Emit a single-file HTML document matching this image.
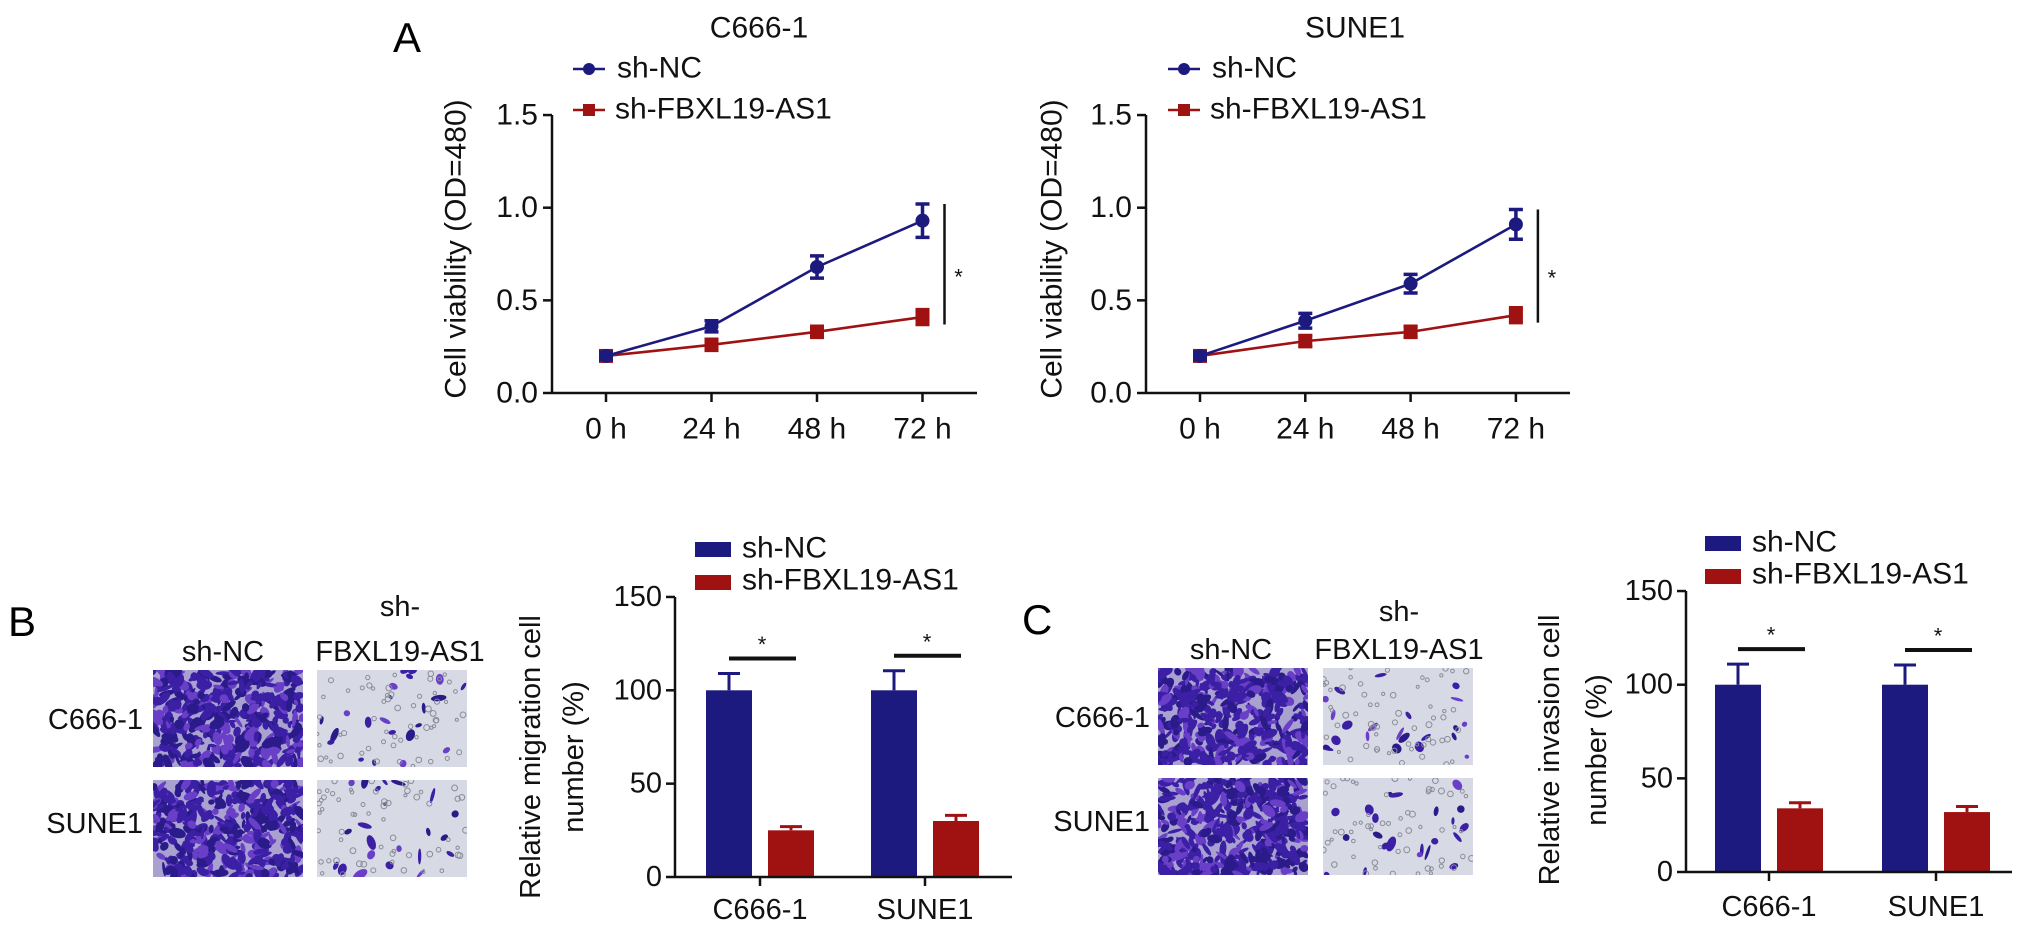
<!DOCTYPE html>
<html><head><meta charset="utf-8"><style>
html,body{margin:0;padding:0;background:#fff;}
svg{display:block;font-family:"Liberation Sans",Arial,sans-serif;}
</style></head><body>
<svg id="fig" width="2032" height="934" viewBox="0 0 2032 934" xmlns="http://www.w3.org/2000/svg">
<defs>
<clipPath id="ci1"><rect x="153" y="670" width="150" height="97"/></clipPath>
<clipPath id="ci2"><rect x="317" y="670" width="150" height="97"/></clipPath>
<clipPath id="ci3"><rect x="153" y="780" width="150" height="97"/></clipPath>
<clipPath id="ci4"><rect x="317" y="780" width="150" height="97"/></clipPath>
<clipPath id="ci5"><rect x="1158" y="668" width="150" height="97"/></clipPath>
<clipPath id="ci6"><rect x="1323" y="668" width="150" height="97"/></clipPath>
<clipPath id="ci7"><rect x="1158" y="778" width="150" height="97"/></clipPath>
<clipPath id="ci8"><rect x="1323" y="778" width="150" height="97"/></clipPath>
</defs>
<text x="393" y="52" font-size="42">A</text>
<text x="8" y="636" font-size="42">B</text>
<text x="1022" y="634" font-size="42">C</text>
</svg>
<script>
// ---- Panel A data ----
const timeLabels = ['0 h','24 h','48 h','72 h'];
const yTickValsA = [0, 0.5, 1.0, 1.5];
const yTickLabelsA = ['0.0','0.5','1.0','1.5'];
const c666NC = [0.20, 0.36, 0.68, 0.93];
const c666NCErr = [0.02, 0.03, 0.06, 0.09];
const c666KD = [0.20, 0.26, 0.33, 0.41];
const c666KDErr = [0.02, 0.03, 0.03, 0.04];
const sune1NC = [0.20, 0.39, 0.59, 0.91];
const sune1NCErr = [0.02, 0.04, 0.05, 0.08];
const sune1KD = [0.20, 0.28, 0.33, 0.42];
const sune1KDErr = [0.02, 0.03, 0.03, 0.04];
// ---- Panel B/C data ----
const barCats = ['C666-1','SUNE1'];
const yTickValsB = [0, 50, 100, 150];
const migNC = [100, 100];
const migNCErr = [9, 10.5];
const migKD = [25, 30];
const migKDErr = [2, 3];
const invNC = [100, 100];
const invNCErr = [11, 10.5];
const invKD = [34, 32];
const invKDErr = [3, 3];

const NS = 'http://www.w3.org/2000/svg';
const svg = document.getElementById('fig');
const BLUE = '#1c1a7e', RED = '#a01212';
function mk(tag, attrs, parent) {
  const e = document.createElementNS(NS, tag);
  for (const k in attrs) e.setAttribute(k, attrs[k]);
  (parent || svg).appendChild(e);
  return e;
}
function txt(x, y, s, size, anchor, parent) {
  const t = mk('text', {x: x, y: y, 'font-size': size, 'text-anchor': anchor || 'start', 'dominant-baseline': 'central', fill: '#111'}, parent);
  t.textContent = s;
  return t;
}

// ---------- Line charts ----------
function lineChart(cfg) {
  const g = mk('g', {});
  
  
  const yS = v => cfg.y0 - v * cfg.ppu;
  const xS = i => cfg.xFirst + i * cfg.xStep;
  const ya = mk('line', {x1: cfg.ax, y1: yS(1.5), x2: cfg.ax, y2: yS(0), stroke: '#111', 'stroke-width': 2.5}, g);
  
  
  const xa = mk('line', {x1: cfg.ax, y1: yS(0), x2: cfg.axEnd, y2: yS(0), stroke: '#111', 'stroke-width': 2.5}, g);
  
  
  yTickValsA.forEach((v, i) => {
    mk('line', {x1: cfg.ax - 9, y1: yS(v), x2: cfg.ax, y2: yS(v), stroke: '#111', 'stroke-width': 2.5}, g);
    const t = txt(cfg.ax - 14, yS(v), yTickLabelsA[i], 30, 'end', g);
    
    
  });
  timeLabels.forEach((s, i) => {
    mk('line', {x1: xS(i), y1: yS(0), x2: xS(i), y2: yS(0) + 9, stroke: '#111', 'stroke-width': 2.5}, g);
    const t = txt(xS(i), 429, s, 30, 'middle', g);
    
    
  });
  const yt = txt(0, 0, 'Cell viability (OD=480)', 30, 'middle', g);
  yt.setAttribute('transform', 'translate(' + cfg.titleX + ',249) rotate(-90)');
  
  
  const tt = txt(cfg.titleCX, 28, cfg.title, 30, 'middle', g);
  
  
  const series = [[cfg.kd, cfg.kdErr, RED, 'sq', 'series-sh-fbxl19-as1'], [cfg.nc, cfg.ncErr, BLUE, 'ci', 'series-sh-nc']];
  series.forEach(([vals, errs, col, shape, nm]) => {
    const sg = mk('g', {}, g);
    
    
    const pts = vals.map((v, i) => xS(i) + ',' + yS(v)).join(' ');
    mk('polyline', {points: pts, fill: 'none', stroke: col, 'stroke-width': 2.6}, sg);
    vals.forEach((v, i) => {
      const x = xS(i), e = errs[i];
      const eb = mk('path', {d: 'M' + x + ' ' + yS(v + e) + 'V' + yS(v - e) + 'M' + (x - 7) + ' ' + yS(v + e) + 'H' + (x + 7) + 'M' + (x - 7) + ' ' + yS(v - e) + 'H' + (x + 7), stroke: col, 'stroke-width': 3.5, fill: 'none'}, sg);
      
      
      let m;
      if (shape === 'sq') m = mk('rect', {x: x - 7, y: yS(v) - 7, width: 14, height: 14, fill: col}, sg);
      else m = mk('circle', {cx: x, cy: yS(v), r: 7, fill: col}, sg);
      
      
    });
  });
  const sx = xS(3) + 22;
  const sb = mk('line', {x1: sx, y1: yS(cfg.nc[3] + cfg.ncErr[3]), x2: sx, y2: yS(cfg.kd[3] - cfg.kdErr[3]), stroke: '#111', 'stroke-width': 2.5}, g);
  
  
  const st = txt(sx + 14, (yS(cfg.nc[3]) + yS(cfg.kd[3])) / 2 + 8, '*', 22, 'middle', g);
  
  
  const lg = mk('g', {}, g);
  
  
  const l1 = cfg.legX;
  mk('line', {x1: l1, y1: 69, x2: l1 + 32, y2: 69, stroke: BLUE, 'stroke-width': 2.6}, lg);
  mk('circle', {cx: l1 + 16, cy: 69, r: 6, fill: BLUE}, lg);
  const t1 = txt(l1 + 44, 68, 'sh-NC', 30, 'start', lg);
  
  
  mk('line', {x1: l1, y1: 110, x2: l1 + 32, y2: 110, stroke: RED, 'stroke-width': 2.6}, lg);
  mk('rect', {x: l1 + 10, y: 104, width: 12, height: 12, fill: RED}, lg);
  const t2 = txt(l1 + 42, 109, 'sh-FBXL19-AS1', 30, 'start', lg);
  
  
}
lineChart({name: 'chart-a-c666-1', ax: 552, axEnd: 977, xFirst: 606, xStep: 105.5, y0: 393, ppu: 185.3, titleX: 456, titleCX: 759, title: 'C666-1', legX: 573, nc: c666NC, ncErr: c666NCErr, kd: c666KD, kdErr: c666KDErr});
lineChart({name: 'chart-a-sune1', ax: 1146, axEnd: 1570, xFirst: 1200, xStep: 105.3, y0: 393, ppu: 185.3, titleX: 1052, titleCX: 1355, title: 'SUNE1', legX: 1168, nc: sune1NC, ncErr: sune1NCErr, kd: sune1KD, kdErr: sune1KDErr});

// ---------- Bar charts ----------
function barChart(cfg) {
  const g = mk('g', {});
  
  
  const yS = v => cfg.y0 - v * cfg.ppu;
  const xS = i => cfg.tFirst + i * cfg.tStep;
  const ya = mk('line', {x1: cfg.ax, y1: yS(150), x2: cfg.ax, y2: yS(0), stroke: '#111', 'stroke-width': 2.5}, g);
  
  
  yTickValsB.forEach(v => {
    mk('line', {x1: cfg.ax - 9, y1: yS(v), x2: cfg.ax, y2: yS(v), stroke: '#111', 'stroke-width': 2.5}, g);
    const t = txt(cfg.ax - 13, yS(v), String(v), 29, 'end', g);
    
    
  });
  const bw = 46;
  barCats.forEach((c, i) => {
    const cx = xS(i);
    [[cfg.nc, cfg.ncErr, BLUE, -31, 'bar-sh-nc'], [cfg.kd, cfg.kdErr, RED, 31, 'bar-sh-fbxl19-as1']].forEach(([vals, errs, col, off, nm]) => {
      const bx = cx + off;
      mk('line', {x1: bx, y1: yS(vals[i]), x2: bx, y2: yS(vals[i] + errs[i]), stroke: col, 'stroke-width': 3}, g);
      mk('line', {x1: bx - 11, y1: yS(vals[i] + errs[i]), x2: bx + 11, y2: yS(vals[i] + errs[i]), stroke: col, 'stroke-width': 3}, g);
      const b = mk('rect', {x: bx - bw / 2, y: yS(vals[i]), width: bw, height: yS(0) - yS(vals[i]), fill: col}, g);
      
      
    });
    mk('line', {x1: cx, y1: yS(0), x2: cx, y2: yS(0) + 9, stroke: '#111', 'stroke-width': 2.5}, g);
    const t = txt(cx, cfg.labY, c, 29, 'middle', g);
    
    
    const sy = yS(Math.max(cfg.nc[i] + cfg.ncErr[i], cfg.kd[i] + cfg.kdErr[i]) + 8);
    const sl = mk('line', {x1: cx - 31, y1: sy, x2: cx + 36, y2: sy, stroke: '#111', 'stroke-width': 4}, g);
    
    
    const st = txt(cx + 2, sy - 14, '*', 22, 'middle', g);
    
    
  });
  const xa = mk('line', {x1: cfg.ax, y1: yS(0), x2: cfg.axEnd, y2: yS(0), stroke: '#111', 'stroke-width': 2.5}, g);
  
  
  const t1 = txt(0, 0, cfg.t1, 29, 'middle', g);
  t1.setAttribute('transform', 'translate(' + cfg.tX1 + ',' + cfg.tY + ') rotate(-90)');
  
  
  const t2 = txt(0, 0, 'number (%)', 29, 'middle', g);
  t2.setAttribute('transform', 'translate(' + cfg.tX2 + ',' + cfg.tY + ') rotate(-90)');
  
  
  const lg = mk('g', {}, g);
  
  
  mk('rect', {x: cfg.legX, y: cfg.legY, width: 36, height: 15, fill: BLUE}, lg);
  const l1 = txt(cfg.legX + 47, cfg.legY + 6, 'sh-NC', 30, 'start', lg);
  
  
  mk('rect', {x: cfg.legX, y: cfg.legY + 33, width: 36, height: 15, fill: RED}, lg);
  const l2 = txt(cfg.legX + 47, cfg.legY + 38, 'sh-FBXL19-AS1', 30, 'start', lg);
  
  
}
barChart({name: 'chart-b-migration', ax: 675, axEnd: 1012, tFirst: 760, tStep: 165, y0: 877, ppu: 1.867, labY: 910, t1: 'Relative migration cell', tX1: 531, tX2: 574, tY: 757, legX: 695, legY: 542, nc: migNC, ncErr: migNCErr, kd: migKD, kdErr: migKDErr});
barChart({name: 'chart-c-invasion', ax: 1686, axEnd: 2012, tFirst: 1769, tStep: 167, y0: 872, ppu: 1.873, labY: 907, t1: 'Relative invasion cell', tX1: 1550, tX2: 1597, tY: 750, legX: 1705, legY: 536, nc: invNC, ncErr: invNCErr, kd: invKD, kdErr: invKDErr});

// ---------- Micrograph panels (decorative texture) ----------
let seed = 12345;
function rnd() { seed = (seed * 1103515245 + 12345) % 2147483648; return seed / 2147483648; }
function micro(x, y, clip, dense, nm) {
  const g = mk('g', {'clip-path': 'url(#' + clip + ')'});
  
  
  mk('rect', {x: x, y: y, width: 150, height: 97, fill: dense ? '#a9a2d0' : '#d7d9e4'}, g);
  const n = dense ? 420 : 22;
  for (let k = 0; k < n; k++) {
    const cx = x + rnd() * 150, cy = y + rnd() * 97;
    const rx = dense ? 3 + rnd() * 6 : 2 + rnd() * 6, ry = dense ? 1.5 + rnd() * 3.5 : 1.5 + rnd() * 3;
    const c = rnd() < 0.5 ? '#3b1fa5' : (rnd() < 0.5 ? '#2a1a8a' : '#6a3fc8');
    mk('ellipse', {cx: cx, cy: cy, rx: rx, ry: ry, fill: c, transform: 'rotate(' + Math.floor(rnd() * 180) + ' ' + cx + ' ' + cy + ')'}, g);
  }
  if (!dense) {
    for (let k = 0; k < 60; k++) {
      mk('circle', {cx: x + rnd() * 150, cy: y + rnd() * 97, r: 1.5 + rnd() * 1.5, fill: 'none', stroke: '#8a8c98', 'stroke-width': 1}, g);
    }
  }
}
micro(153, 670, 'ci1', true, 'image-b-c666-1-sh-nc');
micro(317, 670, 'ci2', false, 'image-b-c666-1-sh-fbxl19');
micro(153, 780, 'ci3', true, 'image-b-sune1-sh-nc');
micro(317, 780, 'ci4', false, 'image-b-sune1-sh-fbxl19');
micro(1158, 668, 'ci5', true, 'image-c-c666-1-sh-nc');
micro(1323, 668, 'ci6', false, 'image-c-c666-1-sh-fbxl19');
micro(1158, 778, 'ci7', true, 'image-c-sune1-sh-nc');
micro(1323, 778, 'ci8', false, 'image-c-sune1-sh-fbxl19');

[[223, 400, 607, 652, 143, 720, 824], [1231, 1399, 612, 650, 1150, 718, 822]].forEach(p => {
  const a = txt(p[0], p[3], 'sh-NC', 29, 'middle');
  
  
  const b = txt(p[1], p[2], 'sh-', 29, 'middle');
  
  
  const c = txt(p[1], p[3], 'FBXL19-AS1', 29, 'middle');
  
  
  const d = txt(p[4], p[5], 'C666-1', 29, 'end');
  
  
  const e = txt(p[4], p[6], 'SUNE1', 29, 'end');
  
  
});
</script>
</body></html>
